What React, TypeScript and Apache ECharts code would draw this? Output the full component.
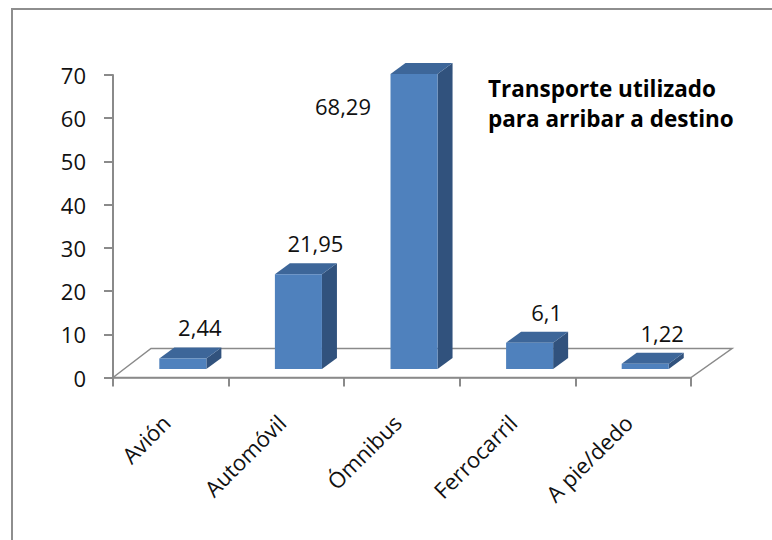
import React, { useEffect, useRef } from 'react';
import * as echarts from 'echarts';

const categories: string[] = ['Avión', 'Automóvil', 'Ómnibus', 'Ferrocarril', 'A pie/dedo'];
const values: number[] = [2.44, 21.95, 68.29, 6.1, 1.22];
const yMin = 0;
const yMax = 70;
const yInterval = 10;
const titleLines: string[] = ['Transporte utilizado', 'para arribar a destino'];

const FONT = '"Open Sans", "Noto Sans", sans-serif';
const AXIS_COLOR = '#8a8a8a';
const FRONT = '#4F81BD';
const TOP = '#3D6699';
const SIDE = '#31527D';

// 3D geometry (pixels)
const FLOOR_DX_L = 38;
const FLOOR_DX_R = 41;
const FLOOR_DY = 29;
const BAR_LIFT = 8.5;
const SIDE_DX = 15;
const SIDE_DY = 11;
const BAR_W_RATIO = 0.407;
const BAR_SHIFT_RATIO = 0.104;
const LABEL_DX = 17;
const LABEL_DY = -31;
// manually moved label (Ómnibus)
const LABEL_SHIFT: Record<number, [number, number]> = { 2: [-88, 63] };

const fmt = (v: number) => String(v).replace('.', ',');

export default function App() {
  const ref = useRef<HTMLDivElement>(null);
  useEffect(() => {
    document.body.style.margin = '0';
    const chart = echarts.init(ref.current as HTMLDivElement, null, { renderer: 'svg' });

    const floorItem = (params: any, api: any) => {
      const p0 = api.coord([0, 0]);
      const p1 = api.coord([categories.length - 1, 0]);
      const bw = api.size([1, 0])[0];
      const x0 = p0[0] - bw / 2;
      const x1 = p1[0] + bw / 2;
      const y = p0[1];
      return {
        type: 'polygon',
        silent: true,
        shape: {
          points: [
            [x0, y],
            [x0 + FLOOR_DX_L, y - FLOOR_DY],
            [x1 + FLOOR_DX_R, y - FLOOR_DY],
            [x1, y],
          ],
        },
        style: { fill: 'none', stroke: AXIS_COLOR, lineWidth: 1.5 },
      };
    };

    const barItem = (params: any, api: any) => {
      const idx = api.value(0);
      const v = api.value(1);
      const base = api.coord([idx, 0]);
      const top = api.coord([idx, v]);
      const bw = api.size([1, 0])[0];
      const w = bw * BAR_W_RATIO;
      const cx = base[0] + bw * BAR_SHIFT_RATIO;
      const fx0 = cx - w / 2;
      const fx1 = cx + w / 2;
      const yb = base[1] - BAR_LIFT;
      const yt = top[1] - BAR_LIFT;
      const shift = LABEL_SHIFT[params.dataIndex] || [0, 0];
      return {
        type: 'group',
        children: [
          {
            type: 'polygon',
            shape: { points: [[fx1, yt], [fx1 + SIDE_DX, yt - SIDE_DY], [fx1 + SIDE_DX, yb - SIDE_DY], [fx1, yb]] },
            style: { fill: SIDE },
          },
          {
            type: 'polygon',
            shape: { points: [[fx0, yt], [fx0 + SIDE_DX, yt - SIDE_DY], [fx1 + SIDE_DX, yt - SIDE_DY], [fx1, yt]] },
            style: { fill: TOP },
          },
          {
            type: 'rect',
            shape: { x: fx0, y: yt, width: w, height: yb - yt },
            style: { fill: FRONT },
          },
          {
            type: 'text',
            x: cx + LABEL_DX + shift[0],
            y: yt + LABEL_DY + shift[1],
            style: {
              text: fmt(values[params.dataIndex]),
              font: `22px ${FONT}`,
              fill: '#111',
              align: 'center',
              verticalAlign: 'middle',
            },
          },
        ],
      };
    };

    chart.setOption({
      animation: false,
      backgroundColor: '#ffffff',
      grid: { left: 113, top: 75, width: 578, height: 302.5, containLabel: false },
      xAxis: {
        type: 'category',
        data: categories,
        axisLine: { show: true, lineStyle: { color: AXIS_COLOR, width: 1.5 } },
        axisTick: { show: true, length: 9, interval: 0, lineStyle: { color: AXIS_COLOR, width: 2 } },
        axisLabel: {
          rotate: 45,
          margin: 36,
          padding: [0, 7, 0, 0],
          interval: 0,
          fontSize: 22,
          fontFamily: FONT,
          color: '#111',
        },
        splitLine: { show: false },
      },
      yAxis: {
        type: 'value',
        min: yMin,
        max: yMax,
        interval: yInterval,
        axisLine: { show: true, lineStyle: { color: AXIS_COLOR, width: 2 } },
        axisTick: { show: true, length: 9, lineStyle: { color: AXIS_COLOR, width: 2 } },
        axisLabel: { margin: 27, fontSize: 22, fontFamily: FONT, color: '#111' },
        splitLine: { show: false },
      },
      graphic: [
        {
          type: 'rect',
          silent: true,
          shape: { x: 12, y: 9, width: 900, height: 700 },
          style: { fill: 'none', stroke: '#8e8e8e', lineWidth: 2 },
          z: -1,
        },
        ...titleLines.map((t, i) => ({
          type: 'text',
          left: 488,
          top: 74 + i * 30,
          style: {
            text: t,
            font: `bold 22.5px ${FONT}`,
            lineHeight: 28,
            fill: '#000',
          },
        })),
      ],
      series: [
        {
          type: 'custom',
          name: 'floor',
          clip: false,
          silent: true,
          z: 1,
          renderItem: floorItem,
          data: [[0, 0]],
          encode: { x: 0, y: 1 },
        },
        {
          type: 'custom',
          name: 'Transporte',
          clip: false,
          z: 2,
          renderItem: barItem,
          data: values.map((v, i) => [i, v]),
          encode: { x: 0, y: 1 },
        },
      ],
    });

    return () => chart.dispose();
  }, []);
  return <div ref={ref} style={{ width: 772, height: 540 }} />;
}
